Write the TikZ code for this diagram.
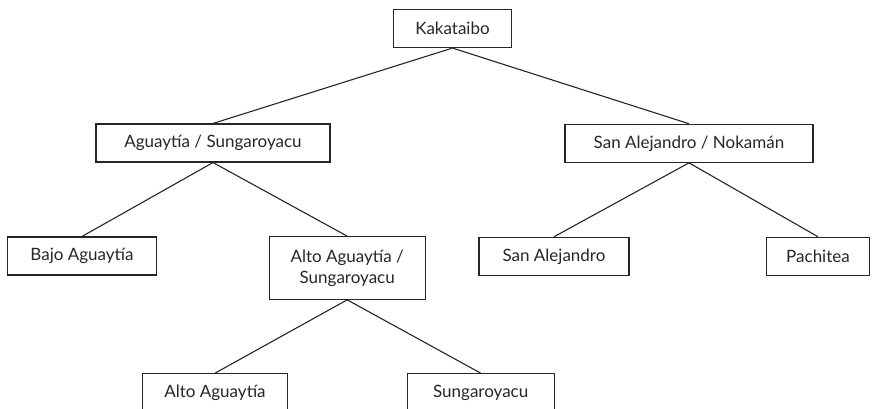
\documentclass[tikz,border=0pt]{standalone}
\usepackage{fontspec}
\setmainfont{Lato}
\usepackage{tikz}

\begin{document}
\begin{tikzpicture}[x=1pt,y=1pt,
  box/.style={draw=black!85, line width=1.1pt, inner sep=0pt, minimum height=38pt,
    align=center, font=\fontsize{17}{21}\selectfont, text=black!85},
  link/.style={draw=black!85, line width=1.1pt}]
\useasboundingbox (0,0) rectangle (876,-408);
\node [box, minimum width=118pt] (kak) at (452.5,-28.5) {Kakataibo};
\node [box, minimum width=234pt] (agu) at (213,-143) {Aguaytía / Sungaroyacu};
\node [box, minimum width=248pt] (san) at (689,-143.3) {San Alejandro / Nokamán};
\node [box, minimum width=149pt] (bajo) at (82,-256) {Bajo Aguaytía};
\node [box, minimum width=156pt, minimum height=62.6pt] (altosung) at (347.2,-268) {Alto Aguaytía /\\Sungaroyacu};
\node [box, minimum width=150pt] (sanale) at (554,-256.3) {San Alejandro};
\node [box, minimum width=102.6pt] (pach) at (818,-256.3) {Pachitea};
\node [box, minimum width=145.4pt] (alto) at (215,-392.7) {Alto Aguaytía};
\node [box, minimum width=146.7pt] (sung) at (480.7,-392.7) {Sungaroyacu};
% connectors
\draw [link] (kak.south) -- (agu.north);
\draw [link] (kak.south) -- (san.north);
\draw [link] (agu.south) -- (bajo.north);
\draw [link] (agu.south) -- (altosung.north);
\draw [link] (san.south) -- (sanale.north);
\draw [link] (san.south) -- (pach.north);
\draw [link] (altosung.south) -- (alto.north);
\draw [link] (altosung.south) -- (sung.north);
\end{tikzpicture}
\end{document}
